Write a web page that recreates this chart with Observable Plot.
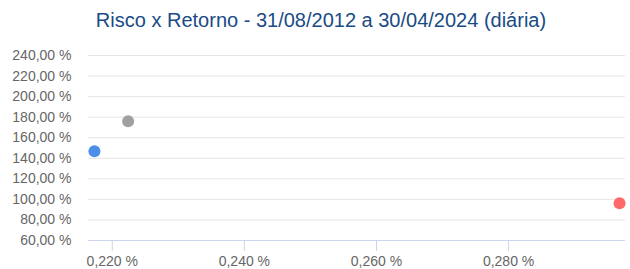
<!DOCTYPE html>
<html>
<head>
<meta charset="utf-8">
<script src="https://cdn.jsdelivr.net/npm/d3@7"></script>
<script src="https://cdn.jsdelivr.net/npm/@observablehq/plot@0.6"></script>
<style>
  body { margin: 0; background: #fff; }
  #title { width: 630px; height: 45px; box-sizing: border-box; padding-top: 9px; padding-left: 12px;
    text-align: center; font: 20px "Liberation Sans", Arial, sans-serif; line-height: 23px; color: #1a4b85; }
  svg { display: block; }
</style>
</head>
<body>
<div id="title">Risco x Retorno - 31/08/2012 a 30/04/2024 (diária)</div>
<div id="chart"></div>
<script>
const series = ["Série 1", "Série 2", "Série 3"];
const risco = [0.2173, 0.2224, 0.2968];     // x, %
const retorno = [146.9, 176.0, 96.3];       // y, %
const colors = ["#4b8fe8", "#a0a0a0", "#fe6868"];
const yTicks = [60, 80, 100, 120, 140, 160, 180, 200, 220, 240];
const xTicks = [0.22, 0.24, 0.26, 0.28];

const data = series.map((s, i) => ({serie: s, x: risco[i], y: retorno[i], color: colors[i]}));
const fmtY = d => d.toFixed(2).replace(".", ",") + " %";
const fmtX = d => d.toFixed(3).replace(".", ",") + " %";

const chart = Plot.plot({
  width: 630,
  height: 224,
  marginTop: 10,
  marginBottom: 29,
  marginLeft: 88,
  marginRight: 5,
  style: {fontFamily: "'Liberation Sans', Arial, sans-serif", fontSize: "14px", color: "#666"},
  x: {domain: [0.2164, 0.2977]},
  y: {domain: [60, 240]},
  marks: [
    Plot.gridY(yTicks, {stroke: "#e6e6e6", strokeOpacity: 1}),
    Plot.axisY(yTicks, {tickSize: 0, tickPadding: 17, tickFormat: fmtY, label: null, fill: "#666", fontSize: 14}),
    Plot.ruleY([60], {stroke: "#ccd6eb"}),
    Plot.axisX(xTicks, {tickSize: 11, tickPadding: 5, tickFormat: fmtX, label: null, stroke: "#ccd6eb", fill: "#666", fontSize: 14}),
    Plot.dot(data, {x: "x", y: "y", r: 6, fill: "color", stroke: null})
  ]
});
document.getElementById("chart").appendChild(chart);
</script>
</body>
</html>
